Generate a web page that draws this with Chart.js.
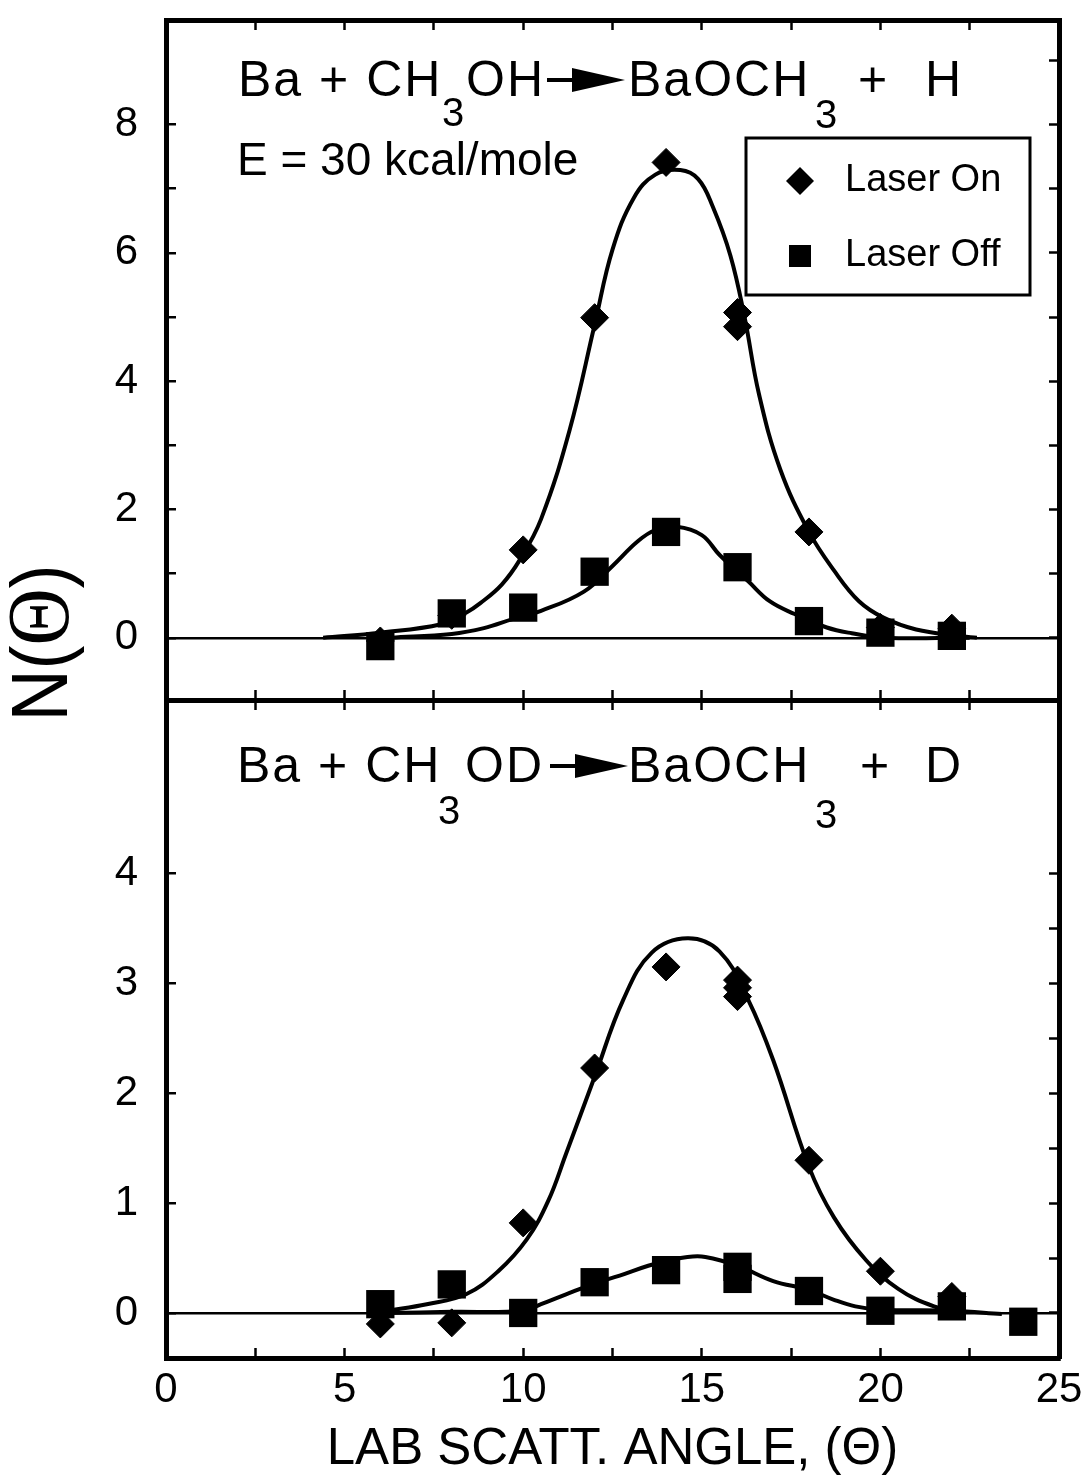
<!DOCTYPE html>
<html>
<head>
<meta charset="utf-8">
<title>Ba + CH3OH / CH3OD angular distributions</title>
<script src="https://cdn.jsdelivr.net/npm/chart.js@4.4.1/dist/chart.umd.min.js"></script>
<style>
  html, body { margin: 0; padding: 0; background: #fff; }
  #wrap { position: relative; width: 1088px; height: 1483px; }
  #wrap canvas { position: absolute; left: 0; top: 0; }
</style>
</head>
<body>
<div id="wrap">
  <canvas id="upper" width="1088" height="1483"></canvas>
  <canvas id="lower" width="1088" height="1483"></canvas>
</div>
<script>
// ---- Ba + CH3OH (upper panel) ----
const hOnX = [6, 8, 10, 12, 14, 16, 16, 18, 20, 22];
const hOnY = [-0.05, 0.35, 1.37, 4.99, 7.41, 5.07, 4.85, 1.65, 0.16, 0.15];
const hOffX = [6, 8, 10, 12, 14, 16, 18, 20, 22];
const hOffY = [-0.13, 0.38, 0.47, 1.03, 1.65, 1.1, 0.26, 0.08, 0.03];
// fitted curves
const hOnFitX = [4.4, 6.0, 7.7, 8.4, 8.8, 9.4, 9.9, 10.5, 11.3, 12.0, 12.5, 13.1, 13.7, 14.4,
  14.9, 15.3, 15.8, 16.2, 16.6, 17.2, 18.0, 18.7, 19.4, 20.1, 21.0, 22.2, 22.7];
const hOnFitY = [0, 0.08, 0.21, 0.39, 0.54, 0.83, 1.21, 1.85, 3.24, 4.88, 6.05, 6.86, 7.22, 7.29,
  7.15, 6.73, 5.96, 4.99, 3.8, 2.62, 1.65, 1.05, 0.57, 0.31, 0.13, 0.03, 0];
const hOffFitX = [6.3, 8.0, 8.9, 9.7, 10.5, 11.7, 12.5, 13.2, 13.7, 14.3, 15.0, 15.5, 16.3,
  16.9, 17.6, 18.5, 19.2, 20.1, 22.5];
const hOffFitY = [0, 0.06, 0.15, 0.29, 0.42, 0.72, 1.12, 1.5, 1.68, 1.73, 1.6, 1.29, 0.88,
  0.57, 0.37, 0.16, 0.07, 0, 0];

// ---- Ba + CH3OD (lower panel) ----
const dOnX = [6, 8, 10, 12, 14, 16, 16, 16, 18, 20, 22];
const dOnY = [-0.1, -0.09, 0.82, 2.23, 3.15, 3.03, 2.96, 2.88, 1.39, 0.38, 0.15];
const dOffX = [6, 8, 10, 12, 14, 16, 16, 18, 20, 22, 24];
const dOffY = [0.08, 0.26, 0, 0.28, 0.39, 0.42, 0.31, 0.2, 0.02, 0.06, -0.08];
const dOnFitX = [6.2, 7.3, 8.4, 9.3, 10.1, 10.7, 11.2, 12.0, 12.8, 13.6, 14.6, 15.5, 16.3, 17.0,
  18.0, 18.7, 19.6, 20.5, 21.5, 22.4];
const dOnFitY = [0.02, 0.08, 0.17, 0.38, 0.67, 1.02, 1.45, 2.15, 2.85, 3.28, 3.41, 3.29, 2.85, 2.3,
  1.33, 0.87, 0.48, 0.22, 0.06, 0];
const dOffFitX = [6.2, 8.0, 10.0, 10.5, 11.2, 12.0, 12.7, 13.5, 14.0, 14.6, 15.1, 16.0, 17.0,
  18.0, 18.7, 19.3, 20.0, 22.0, 23.4];
const dOffFitY = [0, 0.01, 0.02, 0.08, 0.17, 0.27, 0.34, 0.43, 0.47, 0.51, 0.51, 0.43, 0.29,
  0.21, 0.12, 0.06, 0.03, 0.02, -0.01];

// axis ranges and ticks
const xRange = [0, 25];
const xStep = 2.5;
const xLabelEvery = 5;
const hRange = [-0.97, 9.63];
const hLeftTicks = [0, 8];
const hLabelEvery = 2;
const dRange = [-0.41, 5.58];
const dLeftTicks = [0, 4];
const legendLabels = ['Laser On', 'Laser Off'];

const SANS = '"Liberation Sans", Arial, Helvetica, sans-serif';
const SERIF = '"Liberation Serif", "Times New Roman", serif';
const INK = '#000';

const pts = (xs, ys) => xs.map((x, i) => ({ x, y: ys[i] }));

// every axis gets a fixed thickness so both panels line up exactly
function fixBox(size) {
  return scale => {
    if (scale.isHorizontal()) scale.height = size;
    else scale.width = size;
    scale.paddingTop = scale.paddingBottom = scale.paddingLeft = scale.paddingRight = 0;
  };
}

// inward tick marks on a heavy frame
function frameGrid(extra) {
  return Object.assign({
    drawOnChartArea: false,
    drawTicks: true,
    tickLength: -10,
    tickWidth: 2.5,
    tickColor: INK,
    color: INK
  }, extra || {});
}
const frameBorder = { display: true, color: INK, width: 5 };

function keepTicks(lo, hi) {
  return scale => {
    scale.ticks = scale.ticks.filter(t => t.value >= lo - 1e-9 && t.value <= hi + 1e-9);
  };
}

function datasets(onX, onY, offX, offY, onFitX, onFitY, offFitX, offFitY) {
  const fit = (label, data, order) => ({
    label, data, order,
    showLine: true, pointRadius: 0, borderColor: INK, borderWidth: 4, tension: 0.4
  });
  return [
    {
      label: legendLabels[1], data: pts(offX, offY), order: 0,
      pointStyle: 'rect', pointRadius: 20, pointBorderWidth: 0,
      backgroundColor: INK, borderColor: INK, showLine: false
    },
    {
      label: legendLabels[0], data: pts(onX, onY), order: 1,
      pointStyle: 'rectRot', pointRadius: 14, pointBorderWidth: 1,
      backgroundColor: INK, borderColor: INK, showLine: false
    },
    fit('off fit', pts(offFitX, offFitY), 2),
    fit('on fit', pts(onFitX, onFitY), 3)
  ];
}

// reaction label: pieces placed from the plot's left edge, "3" dropped as a subscript
function drawFormula(ctx, left, base, parts, drop) {
  ctx.save();
  ctx.fillStyle = INK;
  ctx.strokeStyle = INK;
  ctx.textAlign = 'left';
  ctx.textBaseline = 'alphabetic';
  for (const p of parts) {
    const x = left + p.dx;
    if (p.arrow) {
      const y = base - 16;
      ctx.lineWidth = 4;
      ctx.beginPath();
      ctx.moveTo(x, y);
      ctx.lineTo(x + 32, y);
      ctx.stroke();
      ctx.beginPath();
      ctx.moveTo(x + 25, y - 12);
      ctx.lineTo(x + 78, y);
      ctx.lineTo(x + 25, y + 12);
      ctx.closePath();
      ctx.fill();
      continue;
    }
    ctx.font = (p.sub ? 40 : 50) + 'px ' + SANS;
    ctx.letterSpacing = p.sub ? '0px' : '2px';
    ctx.fillText(p.t, x, base + (p.sub ? drop[p.sub - 1] : 0));
  }
  ctx.restore();
}

const upperLabels = {
  id: 'upperLabels',
  afterDatasetsDraw(chart) {
    const { ctx, chartArea: a } = chart;
    drawFormula(ctx, a.left, a.top + 76, [
      { t: 'Ba + CH', dx: 72 },
      { t: '3', dx: 276, sub: 1 },
      { t: 'OH', dx: 300 },
      { arrow: true, dx: 381 },
      { t: 'BaOCH', dx: 462 },
      { t: '3', dx: 649, sub: 2 },
      { t: '+', dx: 692 },
      { t: 'H', dx: 759 }
    ], [30, 32]);

    ctx.save();
    ctx.fillStyle = INK;
    ctx.font = '46px ' + SANS;
    ctx.textBaseline = 'alphabetic';
    ctx.fillText('E = 30 kcal/mole', a.left + 71, a.top + 155);

    // legend box
    const bx = a.left + 580, by = a.top + 118, bw = 284, bh = 157;
    ctx.lineWidth = 3;
    ctx.strokeStyle = INK;
    ctx.strokeRect(bx, by, bw, bh);
    const mx = bx + 54;
    const rows = [by + 43, by + 118];
    // diamond
    ctx.beginPath();
    ctx.moveTo(mx - 14, rows[0]);
    ctx.lineTo(mx, rows[0] - 14);
    ctx.lineTo(mx + 14, rows[0]);
    ctx.lineTo(mx, rows[0] + 14);
    ctx.closePath();
    ctx.fill();
    // square
    ctx.fillRect(mx - 11, rows[1] - 11, 22, 22);
    ctx.font = '38px ' + SANS;
    ctx.textBaseline = 'middle';
    ctx.fillText(legendLabels[0], bx + 99, rows[0]);
    ctx.fillText(legendLabels[1], bx + 99, rows[1]);

    // vertical axis title N(Θ), shared by both panels
    ctx.translate(a.left - 121, 643);
    ctx.rotate(-Math.PI / 2);
    ctx.scale(0.9, 1);
    ctx.textBaseline = 'middle';
    const pieces = [['N(', '80px ' + SANS], ['\u0398', '88px ' + SERIF], [')', '80px ' + SANS]];
    let total = 0;
    const widths = pieces.map(([t, f]) => {
      ctx.font = f;
      const w = ctx.measureText(t).width;
      total += w;
      return w;
    });
    let x = -total / 2;
    pieces.forEach(([t, f], i) => {
      ctx.font = f;
      ctx.fillText(t, x, 0);
      x += widths[i];
    });
    ctx.restore();
  }
};

const lowerLabels = {
  id: 'lowerLabels',
  afterDatasetsDraw(chart) {
    const { ctx, chartArea: a } = chart;
    drawFormula(ctx, a.left, a.top + 82, [
      { t: 'Ba + CH', dx: 71 },
      { t: '3', dx: 272, sub: 1 },
      { t: 'OD', dx: 299 },
      { arrow: true, dx: 384 },
      { t: 'BaOCH', dx: 462 },
      { t: '3', dx: 649, sub: 2 },
      { t: '+', dx: 694 },
      { t: 'D', dx: 759 }
    ], [42, 46]);
  }
};

function panel(canvasId, opts) {
  const yCommon = { type: 'linear', min: opts.yRange[0], max: opts.yRange[1] };
  const xCommon = { type: 'linear', min: xRange[0], max: xRange[1] };
  return new Chart(document.getElementById(canvasId), {
    type: 'scatter',
    data: { datasets: opts.datasets },
    plugins: [opts.labels],
    options: {
      responsive: false,
      animation: false,
      events: [],
      layout: { padding: 0 },
      plugins: { legend: { display: false }, tooltip: { enabled: false } },
      scales: {
        x: Object.assign({}, xCommon, {
          position: 'bottom',
          border: frameBorder,
          grid: frameGrid(),
          ticks: {
            display: opts.xLabels,
            stepSize: xStep, autoSkip: false, maxRotation: 0, includeBounds: false,
            padding: 17, color: INK, font: { family: SANS, size: 42 },
            callback: v => (v % xLabelEvery === 0 ? String(v) : '')
          },
          title: {
            display: opts.xLabels,
            text: 'LAB SCATT. ANGLE, (\u0398)',
            color: INK,
            font: { family: SANS, size: 51 },
            padding: { top: 0, bottom: 2 }
          },
          afterFit: fixBox(opts.bottomGap)
        }),
        xTop: Object.assign({}, xCommon, {
          position: 'top',
          border: frameBorder,
          grid: frameGrid(),
          ticks: { display: false, stepSize: xStep, includeBounds: false },
          afterFit: fixBox(opts.topGap)
        }),
        y: Object.assign({}, yCommon, {
          position: 'left',
          border: frameBorder,
          grid: frameGrid({
            drawOnChartArea: true,
            lineWidth: 2.5,
            // only the zero line is drawn across the panel
            color: c => (c.tick && c.tick.value === 0 ? INK : 'rgba(0,0,0,0)')
          }),
          ticks: {
            stepSize: 1, includeBounds: false, padding: 38, color: INK,
            font: { family: SANS, size: 42 },
            callback: v => (v % opts.yLabelEvery === 0 ? String(v) : '')
          },
          afterBuildTicks: keepTicks(opts.leftTicks[0], opts.leftTicks[1]),
          afterFit: fixBox(166)
        }),
        yRight: Object.assign({}, yCommon, {
          position: 'right',
          border: frameBorder,
          grid: frameGrid(),
          ticks: { display: false, stepSize: opts.rightStep, includeBounds: false },
          afterBuildTicks: keepTicks(opts.rightTicks[0], opts.rightTicks[1]),
          afterFit: fixBox(29)
        })
      }
    }
  });
}

panel('upper', {
  datasets: datasets(hOnX, hOnY, hOffX, hOffY, hOnFitX, hOnFitY, hOffFitX, hOffFitY),
  labels: upperLabels,
  yRange: hRange,
  leftTicks: hLeftTicks,
  yLabelEvery: hLabelEvery,
  rightStep: 1,
  rightTicks: [0, 9],
  xLabels: false,
  topGap: 12,
  bottomGap: 1483 - 700
});

panel('lower', {
  datasets: datasets(dOnX, dOnY, dOffX, dOffY, dOnFitX, dOnFitY, dOffFitX, dOffFitY),
  labels: lowerLabels,
  yRange: dRange,
  leftTicks: dLeftTicks,
  yLabelEvery: 1,
  rightStep: 0.5,
  rightTicks: [0, 4],
  xLabels: true,
  topGap: 700,
  bottomGap: 1483 - 1358
});
</script>
</body>
</html>
